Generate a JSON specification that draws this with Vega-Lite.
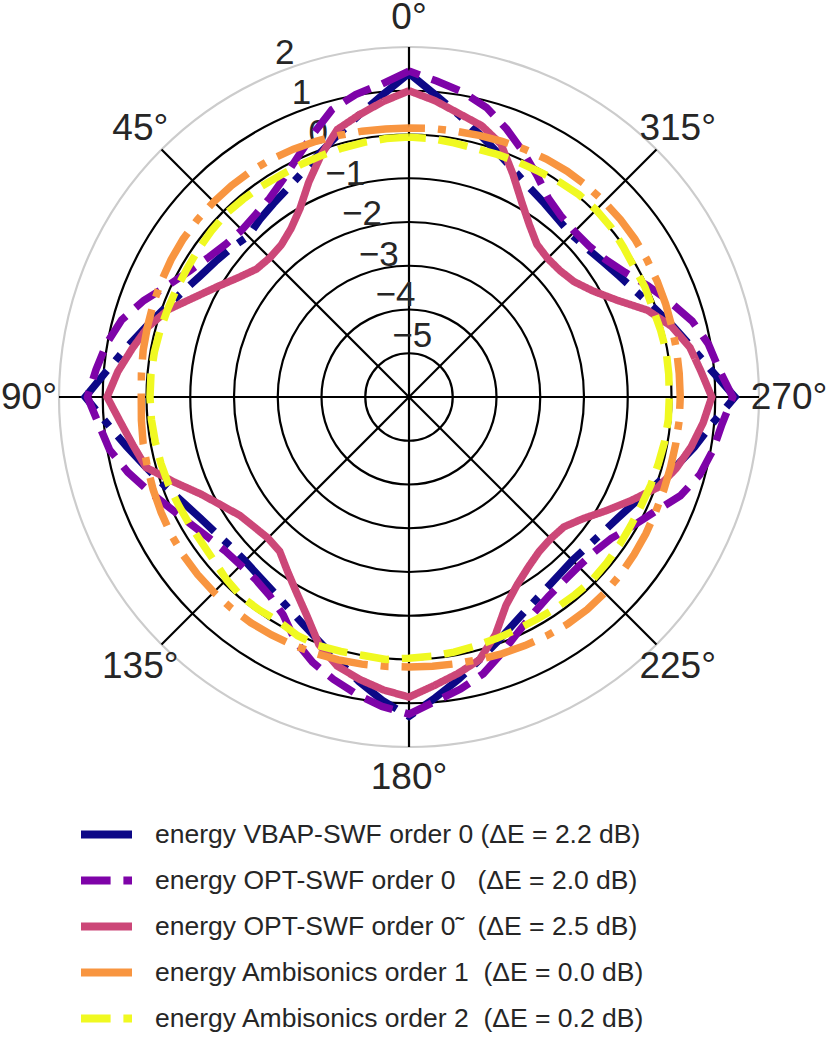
{
  "$schema": "https://vega.github.io/schema/vega-lite/v6.json",
  "width": 830,
  "height": 1039,
  "padding": 0,
  "autosize": {"type": "none"},
  "background": "white",
  "config": {"view": {"stroke": null}},
  "datasets": {
    "series": [
      {"s": "v", "label": "energy VBAP-SWF order 0 (ΔE = 2.2 dB)"},
      {"s": "o", "label": "energy OPT-SWF order 0\u00a0\u00a0 (ΔE = 2.0 dB)"},
      {"s": "t", "label": "energy OPT-SWF order 0\u0303\u00a0\u00a0 (ΔE = 2.5 dB)"},
      {"s": "a1", "label": "energy Ambisonics order 1\u00a0 (ΔE = 0.0 dB)"},
      {"s": "a2", "label": "energy Ambisonics order 2\u00a0 (ΔE = 0.2 dB)"}
    ],
    "rings": [{"r": -5}, {"r": -4}, {"r": -3}, {"r": -2}, {"r": -1}, {"r": 0}, {"r": 1}, {"r": 2}],
    "spokes": [{"angle": 0}, {"angle": 45}, {"angle": 90}, {"angle": 135}, {"angle": 180}, {"angle": 225}, {"angle": 270}, {"angle": 315}],
    "rlabels": [
      {"r": 2, "label": "2"}, {"r": 1, "label": "1"}, {"r": 0, "label": "0"}, {"r": -1, "label": "−1"},
      {"r": -2, "label": "−2"}, {"r": -3, "label": "−3"}, {"r": -4, "label": "−4"}, {"r": -5, "label": "−5"}
    ],
    "tlabels": [
      {"angle": 0, "label": "0°"}, {"angle": 45, "label": "45°"}, {"angle": 90, "label": "90°"}, {"angle": 135, "label": "135°"},
      {"angle": 180, "label": "180°"}, {"angle": 225, "label": "225°"}, {"angle": 270, "label": "270°"}, {"angle": 315, "label": "315°"}
    ],
    "curves": [
      {"s":"v","a":0,"r":1.40},{"s":"v","a":5,"r":0.93},{"s":"v","a":10,"r":0.55},{"s":"v","a":15,"r":0.22},{"s":"v","a":20,"r":-0.06},{"s":"v","a":25,"r":-0.30},{"s":"v","a":30,"r":-0.48},{"s":"v","a":35,"r":-0.60},{"s":"v","a":40,"r":-0.70},{"s":"v","a":45,"r":-0.80},{"s":"v","a":50,"r":-0.70},{"s":"v","a":55,"r":-0.60},{"s":"v","a":60,"r":-0.48},{"s":"v","a":65,"r":-0.30},{"s":"v","a":70,"r":-0.06},{"s":"v","a":75,"r":0.22},{"s":"v","a":80,"r":0.55},{"s":"v","a":85,"r":0.93},
      {"s":"v","a":90,"r":1.40},{"s":"v","a":95,"r":0.93},{"s":"v","a":100,"r":0.55},{"s":"v","a":105,"r":0.22},{"s":"v","a":110,"r":-0.06},{"s":"v","a":115,"r":-0.30},{"s":"v","a":120,"r":-0.48},{"s":"v","a":125,"r":-0.60},{"s":"v","a":130,"r":-0.68},{"s":"v","a":135,"r":-0.70},{"s":"v","a":140,"r":-0.66},{"s":"v","a":145,"r":-0.58},{"s":"v","a":150,"r":-0.45},{"s":"v","a":155,"r":-0.27},{"s":"v","a":160,"r":-0.04},{"s":"v","a":165,"r":0.25},{"s":"v","a":170,"r":0.60},{"s":"v","a":175,"r":0.96},
      {"s":"v","a":180,"r":1.30},{"s":"v","a":185,"r":0.90},{"s":"v","a":190,"r":0.55},{"s":"v","a":195,"r":0.22},{"s":"v","a":200,"r":-0.06},{"s":"v","a":205,"r":-0.30},{"s":"v","a":210,"r":-0.48},{"s":"v","a":215,"r":-0.60},{"s":"v","a":220,"r":-0.68},{"s":"v","a":225,"r":-0.72},{"s":"v","a":230,"r":-0.68},{"s":"v","a":235,"r":-0.60},{"s":"v","a":240,"r":-0.48},{"s":"v","a":245,"r":-0.30},{"s":"v","a":250,"r":-0.04},{"s":"v","a":255,"r":0.28},{"s":"v","a":260,"r":0.62},{"s":"v","a":265,"r":0.96},
      {"s":"v","a":270,"r":1.45},{"s":"v","a":275,"r":0.94},{"s":"v","a":280,"r":0.56},{"s":"v","a":285,"r":0.25},{"s":"v","a":290,"r":-0.04},{"s":"v","a":295,"r":-0.28},{"s":"v","a":300,"r":-0.46},{"s":"v","a":305,"r":-0.60},{"s":"v","a":310,"r":-0.70},{"s":"v","a":315,"r":-0.75},{"s":"v","a":320,"r":-0.70},{"s":"v","a":325,"r":-0.60},{"s":"v","a":330,"r":-0.48},{"s":"v","a":335,"r":-0.30},{"s":"v","a":340,"r":-0.06},{"s":"v","a":345,"r":0.22},{"s":"v","a":350,"r":0.55},{"s":"v","a":355,"r":0.93},{"s":"v","a":360,"r":1.40},

      {"s":"o","a":0,"r":1.45},{"s":"o","a":5,"r":1.18},{"s":"o","a":10,"r":1.02},{"s":"o","a":15,"r":0.80},{"s":"o","a":20,"r":0.40},{"s":"o","a":25,"r":0.04},{"s":"o","a":30,"r":-0.25},{"s":"o","a":35,"r":-0.45},{"s":"o","a":40,"r":-0.55},{"s":"o","a":45,"r":-0.60},{"s":"o","a":50,"r":-0.55},{"s":"o","a":55,"r":-0.42},{"s":"o","a":60,"r":-0.22},{"s":"o","a":65,"r":0.06},{"s":"o","a":70,"r":0.45},{"s":"o","a":75,"r":0.80},{"s":"o","a":80,"r":1.02},{"s":"o","a":85,"r":1.18},
      {"s":"o","a":90,"r":1.35},{"s":"o","a":95,"r":1.12},{"s":"o","a":100,"r":0.95},{"s":"o","a":105,"r":0.65},{"s":"o","a":110,"r":0.32},{"s":"o","a":115,"r":0.02},{"s":"o","a":120,"r":-0.22},{"s":"o","a":125,"r":-0.40},{"s":"o","a":130,"r":-0.52},{"s":"o","a":135,"r":-0.56},{"s":"o","a":140,"r":-0.55},{"s":"o","a":145,"r":-0.45},{"s":"o","a":150,"r":-0.25},{"s":"o","a":155,"r":0.15},{"s":"o","a":160,"r":0.45},{"s":"o","a":165,"r":0.68},{"s":"o","a":170,"r":0.90},{"s":"o","a":175,"r":1.10},
      {"s":"o","a":180,"r":1.25},{"s":"o","a":185,"r":0.98},{"s":"o","a":190,"r":0.78},{"s":"o","a":195,"r":0.55},{"s":"o","a":200,"r":0.22},{"s":"o","a":205,"r":-0.08},{"s":"o","a":210,"r":-0.30},{"s":"o","a":215,"r":-0.44},{"s":"o","a":220,"r":-0.50},{"s":"o","a":225,"r":-0.52},{"s":"o","a":230,"r":-0.48},{"s":"o","a":235,"r":-0.36},{"s":"o","a":240,"r":-0.10},{"s":"o","a":245,"r":0.20},{"s":"o","a":250,"r":0.60},{"s":"o","a":255,"r":0.88},{"s":"o","a":260,"r":1.05},{"s":"o","a":265,"r":1.18},
      {"s":"o","a":270,"r":1.40},{"s":"o","a":275,"r":1.12},{"s":"o","a":280,"r":0.95},{"s":"o","a":285,"r":0.70},{"s":"o","a":290,"r":0.35},{"s":"o","a":295,"r":0.02},{"s":"o","a":300,"r":-0.30},{"s":"o","a":305,"r":-0.52},{"s":"o","a":310,"r":-0.63},{"s":"o","a":315,"r":-0.65},{"s":"o","a":320,"r":-0.60},{"s":"o","a":325,"r":-0.45},{"s":"o","a":330,"r":-0.15},{"s":"o","a":335,"r":0.18},{"s":"o","a":340,"r":0.52},{"s":"o","a":345,"r":0.85},{"s":"o","a":350,"r":1.08},{"s":"o","a":355,"r":1.25},{"s":"o","a":360,"r":1.45},

      {"s":"t","a":0,"r":1.00},{"s":"t","a":5,"r":0.78},{"s":"t","a":10,"r":0.55},{"s":"t","a":15,"r":0.33},{"s":"t","a":20,"r":-0.12},{"s":"t","a":25,"r":-0.58},{"s":"t","a":30,"r":-1.02},{"s":"t","a":35,"r":-1.30},{"s":"t","a":40,"r":-1.46},{"s":"t","a":45,"r":-1.50},{"s":"t","a":50,"r":-1.45},{"s":"t","a":55,"r":-1.24},{"s":"t","a":60,"r":-0.95},{"s":"t","a":65,"r":-0.60},{"s":"t","a":70,"r":-0.15},{"s":"t","a":75,"r":0.18},{"s":"t","a":80,"r":0.42},{"s":"t","a":85,"r":0.68},
      {"s":"t","a":90,"r":0.90},{"s":"t","a":95,"r":0.62},{"s":"t","a":100,"r":0.40},{"s":"t","a":105,"r":0.22},{"s":"t","a":110,"r":-0.30},{"s":"t","a":115,"r":-0.75},{"s":"t","a":120,"r":-1.05},{"s":"t","a":125,"r":-1.28},{"s":"t","a":130,"r":-1.38},{"s":"t","a":135,"r":-1.44},{"s":"t","a":140,"r":-1.40},{"s":"t","a":145,"r":-1.15},{"s":"t","a":150,"r":-0.85},{"s":"t","a":155,"r":-0.48},{"s":"t","a":160,"r":0.02},{"s":"t","a":165,"r":0.36},{"s":"t","a":170,"r":0.55},{"s":"t","a":175,"r":0.72},
      {"s":"t","a":180,"r":0.86},{"s":"t","a":185,"r":0.62},{"s":"t","a":190,"r":0.42},{"s":"t","a":195,"r":0.22},{"s":"t","a":200,"r":-0.22},{"s":"t","a":205,"r":-0.75},{"s":"t","a":210,"r":-1.05},{"s":"t","a":215,"r":-1.25},{"s":"t","a":220,"r":-1.38},{"s":"t","a":225,"r":-1.42},{"s":"t","a":230,"r":-1.38},{"s":"t","a":235,"r":-1.15},{"s":"t","a":240,"r":-0.80},{"s":"t","a":245,"r":-0.40},{"s":"t","a":250,"r":0.05},{"s":"t","a":255,"r":0.32},{"s":"t","a":260,"r":0.55},{"s":"t","a":265,"r":0.75},
      {"s":"t","a":270,"r":0.92},{"s":"t","a":275,"r":0.70},{"s":"t","a":280,"r":0.52},{"s":"t","a":285,"r":0.22},{"s":"t","a":290,"r":-0.20},{"s":"t","a":295,"r":-0.76},{"s":"t","a":300,"r":-1.15},{"s":"t","a":305,"r":-1.40},{"s":"t","a":310,"r":-1.50},{"s":"t","a":315,"r":-1.52},{"s":"t","a":320,"r":-1.45},{"s":"t","a":325,"r":-1.20},{"s":"t","a":330,"r":-0.85},{"s":"t","a":335,"r":-0.38},{"s":"t","a":340,"r":0.15},{"s":"t","a":345,"r":0.42},{"s":"t","a":350,"r":0.58},{"s":"t","a":355,"r":0.80},{"s":"t","a":360,"r":1.00},

      {"s":"a1","a":0,"r":0.15},{"s":"a1","a":5,"r":0.15},{"s":"a1","a":10,"r":0.17},{"s":"a1","a":15,"r":0.19},{"s":"a1","a":20,"r":0.22},{"s":"a1","a":25,"r":0.25},{"s":"a1","a":30,"r":0.28},{"s":"a1","a":35,"r":0.30},{"s":"a1","a":40,"r":0.31},{"s":"a1","a":45,"r":0.31},{"s":"a1","a":50,"r":0.31},{"s":"a1","a":55,"r":0.30},{"s":"a1","a":60,"r":0.28},{"s":"a1","a":65,"r":0.25},{"s":"a1","a":70,"r":0.22},{"s":"a1","a":75,"r":0.19},{"s":"a1","a":80,"r":0.17},{"s":"a1","a":85,"r":0.14},
      {"s":"a1","a":90,"r":0.12},{"s":"a1","a":95,"r":0.14},{"s":"a1","a":100,"r":0.17},{"s":"a1","a":105,"r":0.19},{"s":"a1","a":110,"r":0.22},{"s":"a1","a":115,"r":0.25},{"s":"a1","a":120,"r":0.28},{"s":"a1","a":125,"r":0.30},{"s":"a1","a":130,"r":0.31},{"s":"a1","a":135,"r":0.31},{"s":"a1","a":140,"r":0.31},{"s":"a1","a":145,"r":0.30},{"s":"a1","a":150,"r":0.28},{"s":"a1","a":155,"r":0.26},{"s":"a1","a":160,"r":0.24},{"s":"a1","a":165,"r":0.22},{"s":"a1","a":170,"r":0.20},{"s":"a1","a":175,"r":0.18},
      {"s":"a1","a":180,"r":0.17},{"s":"a1","a":185,"r":0.18},{"s":"a1","a":190,"r":0.19},{"s":"a1","a":195,"r":0.21},{"s":"a1","a":200,"r":0.24},{"s":"a1","a":205,"r":0.27},{"s":"a1","a":210,"r":0.30},{"s":"a1","a":215,"r":0.33},{"s":"a1","a":220,"r":0.34},{"s":"a1","a":225,"r":0.33},{"s":"a1","a":230,"r":0.31},{"s":"a1","a":235,"r":0.28},{"s":"a1","a":240,"r":0.25},{"s":"a1","a":245,"r":0.22},{"s":"a1","a":250,"r":0.20},{"s":"a1","a":255,"r":0.19},{"s":"a1","a":260,"r":0.19},{"s":"a1","a":265,"r":0.20},
      {"s":"a1","a":270,"r":0.20},{"s":"a1","a":275,"r":0.20},{"s":"a1","a":280,"r":0.21},{"s":"a1","a":285,"r":0.22},{"s":"a1","a":290,"r":0.24},{"s":"a1","a":295,"r":0.26},{"s":"a1","a":300,"r":0.28},{"s":"a1","a":305,"r":0.30},{"s":"a1","a":310,"r":0.31},{"s":"a1","a":315,"r":0.31},{"s":"a1","a":320,"r":0.31},{"s":"a1","a":325,"r":0.30},{"s":"a1","a":330,"r":0.28},{"s":"a1","a":335,"r":0.25},{"s":"a1","a":340,"r":0.22},{"s":"a1","a":345,"r":0.19},{"s":"a1","a":350,"r":0.17},{"s":"a1","a":355,"r":0.16},{"s":"a1","a":360,"r":0.15},

      {"s":"a2","a":0,"r":-0.06},{"s":"a2","a":5,"r":-0.07},{"s":"a2","a":10,"r":-0.09},{"s":"a2","a":15,"r":-0.11},{"s":"a2","a":20,"r":-0.13},{"s":"a2","a":25,"r":-0.14},{"s":"a2","a":30,"r":-0.14},{"s":"a2","a":35,"r":-0.12},{"s":"a2","a":40,"r":-0.10},{"s":"a2","a":45,"r":-0.08},{"s":"a2","a":50,"r":-0.10},{"s":"a2","a":55,"r":-0.12},{"s":"a2","a":60,"r":-0.14},{"s":"a2","a":65,"r":-0.14},{"s":"a2","a":70,"r":-0.13},{"s":"a2","a":75,"r":-0.11},{"s":"a2","a":80,"r":-0.09},{"s":"a2","a":85,"r":-0.08},
      {"s":"a2","a":90,"r":-0.08},{"s":"a2","a":95,"r":-0.09},{"s":"a2","a":100,"r":-0.11},{"s":"a2","a":105,"r":-0.13},{"s":"a2","a":110,"r":-0.15},{"s":"a2","a":115,"r":-0.18},{"s":"a2","a":120,"r":-0.20},{"s":"a2","a":125,"r":-0.21},{"s":"a2","a":130,"r":-0.18},{"s":"a2","a":135,"r":-0.10},{"s":"a2","a":140,"r":-0.04},{"s":"a2","a":145,"r":-0.05},{"s":"a2","a":150,"r":-0.07},{"s":"a2","a":155,"r":0.02},{"s":"a2","a":160,"r":0.05},{"s":"a2","a":165,"r":0.02},{"s":"a2","a":170,"r":0.00},{"s":"a2","a":175,"r":0.02},
      {"s":"a2","a":180,"r":-0.03},{"s":"a2","a":185,"r":-0.05},{"s":"a2","a":190,"r":-0.08},{"s":"a2","a":195,"r":-0.11},{"s":"a2","a":200,"r":-0.13},{"s":"a2","a":205,"r":-0.14},{"s":"a2","a":210,"r":-0.14},{"s":"a2","a":215,"r":-0.12},{"s":"a2","a":220,"r":-0.10},{"s":"a2","a":225,"r":-0.08},{"s":"a2","a":230,"r":-0.10},{"s":"a2","a":235,"r":-0.12},{"s":"a2","a":240,"r":-0.14},{"s":"a2","a":245,"r":-0.14},{"s":"a2","a":250,"r":-0.12},{"s":"a2","a":255,"r":-0.10},{"s":"a2","a":260,"r":-0.07},{"s":"a2","a":265,"r":-0.05},
      {"s":"a2","a":270,"r":-0.05},{"s":"a2","a":275,"r":-0.04},{"s":"a2","a":280,"r":-0.03},{"s":"a2","a":285,"r":-0.05},{"s":"a2","a":290,"r":-0.07},{"s":"a2","a":295,"r":-0.05},{"s":"a2","a":300,"r":-0.06},{"s":"a2","a":305,"r":-0.02},{"s":"a2","a":310,"r":0.03},{"s":"a2","a":315,"r":0.05},{"s":"a2","a":320,"r":0.04},{"s":"a2","a":325,"r":0.00},{"s":"a2","a":330,"r":-0.05},{"s":"a2","a":335,"r":-0.08},{"s":"a2","a":340,"r":-0.10},{"s":"a2","a":345,"r":-0.12},{"s":"a2","a":350,"r":-0.10},{"s":"a2","a":355,"r":-0.07},{"s":"a2","a":360,"r":-0.06}
    ]
  },
  "encoding": {
    "x": {"field": "x", "type": "quantitative", "scale": {"domain": [-9.3486, 9.6229], "zero": false, "nice": false}, "axis": null},
    "y": {"field": "y", "type": "quantitative", "scale": {"domain": [-14.6743, 9.0743], "zero": false, "nice": false}, "axis": null}
  },
  "layer": [
    {
      "data": {"name": "rings"},
      "transform": [
        {"calculate": "datum.r + 6", "as": "rho"},
        {"calculate": "0", "as": "x"},
        {"calculate": "0", "as": "y"}
      ],
      "mark": {"type": "point", "shape": "circle", "filled": false, "strokeWidth": 2.2, "opacity": 1},
      "encoding": {
        "size": {"field": "rho", "type": "quantitative", "scale": {"type": "pow", "exponent": 2, "domain": [0, 8], "range": [0, 490000]}, "legend": null},
        "stroke": {"condition": {"test": "datum.r == 2", "value": "#cccccc"}, "value": "#000000"}
      }
    },
    {
      "data": {"name": "spokes"},
      "transform": [
        {"calculate": "0", "as": "x"},
        {"calculate": "0", "as": "y"},
        {"calculate": "-8 * sin(datum.angle * PI / 180)", "as": "xe"},
        {"calculate": "8 * cos(datum.angle * PI / 180)", "as": "ye"}
      ],
      "mark": {"type": "rule", "color": "#000000", "strokeWidth": 2.2},
      "encoding": {
        "x2": {"field": "xe"},
        "y2": {"field": "ye"}
      }
    },
    {
      "data": {"name": "rlabels"},
      "transform": [
        {"calculate": "-(datum.r + 6) * sin(PI / 8)", "as": "x"},
        {"calculate": "(datum.r + 6) * cos(PI / 8)", "as": "y"}
      ],
      "mark": {"type": "text", "align": "left", "baseline": "alphabetic", "dy": -10, "fontSize": 35, "font": "Liberation Sans", "color": "#262626"},
      "encoding": {"text": {"field": "label"}}
    },
    {
      "data": {"name": "curves"},
      "transform": [
        {"lookup": "s", "from": {"data": {"name": "series"}, "key": "s", "fields": ["label"]}},
        {"calculate": "datum.r + 6", "as": "rho"},
        {"calculate": "-datum.rho * sin(datum.a * PI / 180)", "as": "x"},
        {"calculate": "datum.rho * cos(datum.a * PI / 180)", "as": "y"}
      ],
      "mark": {"type": "line", "strokeWidth": 7.5},
      "encoding": {
        "order": {"field": "a", "type": "quantitative"},
        "color": {
          "field": "label", "type": "nominal",
          "scale": {
            "domain": ["energy VBAP-SWF order 0 (ΔE = 2.2 dB)", "energy OPT-SWF order 0\u00a0\u00a0 (ΔE = 2.0 dB)", "energy OPT-SWF order 0\u0303\u00a0\u00a0 (ΔE = 2.5 dB)", "energy Ambisonics order 1\u00a0 (ΔE = 0.0 dB)", "energy Ambisonics order 2\u00a0 (ΔE = 0.2 dB)"],
            "range": ["#0d0887", "#7e03a8", "#cc4778", "#f89540", "#f0f921"]
          },
          "legend": {"title": null, "orient": "none", "legendX": 77, "legendY": 805, "direction": "vertical", "symbolType": "stroke", "symbolSize": 2601, "symbolStrokeWidth": 8, "labelFont": "Liberation Sans", "labelFontSize": 26.5, "labelColor": "#262626", "labelLimit": 0, "labelOffset": 19, "rowPadding": -3.3, "padding": 0}
        },
        "strokeDash": {
          "field": "label", "type": "nominal",
          "scale": {
            "domain": ["energy VBAP-SWF order 0 (ΔE = 2.2 dB)", "energy OPT-SWF order 0\u00a0\u00a0 (ΔE = 2.0 dB)", "energy OPT-SWF order 0\u0303\u00a0\u00a0 (ΔE = 2.5 dB)", "energy Ambisonics order 1\u00a0 (ΔE = 0.0 dB)", "energy Ambisonics order 2\u00a0 (ΔE = 0.2 dB)"],
            "range": [[51, 13, 8, 13], [29.6, 12.8], [1, 0], [51, 13, 8, 13], [29.6, 12.8]]
          },
          "legend": {"title": null, "orient": "none", "legendX": 77, "legendY": 805, "direction": "vertical", "symbolType": "stroke", "symbolSize": 2601, "symbolStrokeWidth": 8, "labelFont": "Liberation Sans", "labelFontSize": 26.5, "labelColor": "#262626", "labelLimit": 0, "labelOffset": 19, "rowPadding": -3.3, "padding": 0}
        }
      }
    },
    {
      "data": {"name": "tlabels"},
      "transform": [
        {"calculate": "-8.686 * sin(datum.angle * PI / 180)", "as": "x"},
        {"calculate": "8.686 * cos(datum.angle * PI / 180)", "as": "y"}
      ],
      "mark": {"type": "text", "align": "center", "baseline": "middle", "dy": 1, "fontSize": 37, "font": "Liberation Sans", "color": "#262626"},
      "encoding": {"text": {"field": "label"}}
    }
  ]
}
